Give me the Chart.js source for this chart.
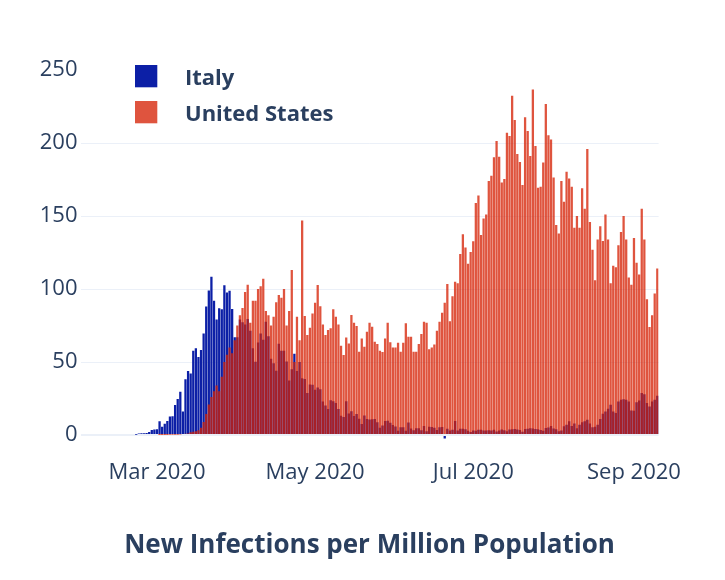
<!DOCTYPE html>
<html>
<head>
<meta charset="utf-8">
<script src="https://cdn.jsdelivr.net/npm/chart.js@4.4.1/dist/chart.umd.min.js"></script>
<style>
html,body{margin:0;padding:0;background:#fff;}
#wrap{width:725px;height:580px;position:relative;}
</style>
</head>
<body>
<div id="wrap"><canvas id="c" width="725" height="580"></canvas></div>
<script>
// ---- data (new infections per million, daily, from 2020-02-01) ----
const startDate = '2020-02-01';
const seriesNames = ['Italy', 'United States'];

const italyFeb = [0,0,0,0,0,0,0,0,0,0,0,0,0,0,0,0,0,0,0,0,0,0.3,1.0,1.2,1.3,1.5,2.1,3.4,3.9];
const italyMar = [4.0,9.4,5.7,7.7,9.7,12.7,12.9,20.6,24.7,29.7,16.2,38.3,43.8,42.1,57.8,59.4,53.5,58.3,69.6,88.0,99.0,108.4,92.0,79.2,86.8,86.2,102.6,97.7,98.8,86.3,67.0];
const italyApr = [67.0,79.1,77.2,75.8,79.5,71.4,59.5,50.3,63.4,69.5,65.3,77.6,67.7,52.2,49.2,44.1,62.6,57.8,57.7,50.4,37.3,45.1,55.7,43.8,50.0,39.0,38.4,28.8,34.6,34.5];
const italyMay = [31.0,32.5,31.4,23.0,20.2,17.8,23.9,23.2,22.0,17.9,13.3,12.3,23.2,14.7,16.4,13.0,14.5,11.2,7.5,13.4,11.0,10.6,10.8,11.0,8.8,5.0,6.6,9.7,9.8,8.5,6.9];
const italyJun = [5.9,2.9,5.3,5.3,2.9,8.6,4.5,3.3,4.6,4.7,3.3,6.3,2.7,5.7,5.6,5.0,3.5,5.4,5.5,-2.4,4.3,3.1,3.6,9.6,3.2,4.4,4.3,4.0,2.9,2.1];
const italyJul = [3.1,3.0,3.7,3.7,3.2,3.2,3.3,3.1,3.6,2.5,3.1,3.8,3.3,2.7,3.8,4.0,4.2,3.9,3.5,2.2,4.2,4.3,4.7,4.5,4.1,4.0,3.5,3.0,4.9,5.2,6.3];
const italyAug = [4.5,4.0,2.6,3.2,6.0,7.0,9.4,6.2,8.0,4.6,7.0,8.7,9.4,10.5,8.0,5.3,5.7,7.0,11.0,14.6,16.2,18.0,20.8,16.2,15.1,23.0,24.2,24.6,24.2,23.0,16.9];
const italySep = [16.7,22.4,23.7,28.8,28.0,21.9,19.6,23.0,24.2,27.0];

const usFeb = [0,0,0,0,0,0,0,0,0,0,0,0,0,0,0,0,0,0,0,0,0,0,0,0,0,0,0,0,0];
const usMar = [0,0.1,0.1,0.1,0.1,0.2,0.2,0.3,0.3,0.4,0.8,0.9,1.1,2.0,2.3,2.7,3.3,5.0,9.0,14.5,21,26,30,34,30,40,50,55,60,56,65];
const usApr = [75,82,87,98,103,77,92,92,100,102,107,85,82,75,81,91,96,94,100,75,85,113,50,81,65,147,81.5,68.5,73.5,83.3];
const usMay = [90.6,102.7,88.3,75.7,68.5,72,73.1,86.1,81,75.7,61.2,54.8,66.9,62.8,82.2,76.9,74.7,57.1,66.2,60.5,70.8,76.9,74.2,63.9,62.4,57.8,56.9,66.2,76.9,63.6,60];
const usJun = [60,63.2,57.1,63.2,76.5,67.4,67.4,57.1,57.1,62.3,69.2,77.6,77,58.7,60,62,71.4,77.6,83.8,90.6,103.4,78,95,105,104,124,137.5,128.4,117.4,125.4];
const usJul = [132.7,159,164,137,148.4,151.1,174,177.6,190.2,201.4,190.6,173,175.3,207,204.8,232.4,215.8,192.5,187,171.3,217.6,208.2,191.1,236.7,197.9,169.4,170,186.6,226.7,205.4,202.5];
const usAug = [176.4,143.8,138.1,174,159.8,180.3,175.8,170,142,150,142,169,155,196,146,127,106,134,143,133,151,134,104,116,115,130,139,150,134,108,103];
const usSep = [135,118,110,155,134,93,74,82,97,114];

const tickDates = ['2020-03-01','2020-05-01','2020-07-01','2020-09-01'];
const tickLabels = ['Mar 2020','May 2020','Jul 2020','Sep 2020'];
const axisTitle = 'New Infections per Million Population';

const italyNew = [].concat(italyFeb, italyMar, italyApr, italyMay, italyJun, italyJul, italyAug, italySep);
const usNew = [].concat(usFeb, usMar, usApr, usMay, usJun, usJul, usAug, usSep);

const dates = [];
(function(){
  const d0 = new Date(startDate + 'T00:00:00Z').getTime();
  for (let i = 0; i < italyNew.length; i++) {
    dates.push(new Date(d0 + i * 86400000).toISOString().slice(0, 10));
  }
})();

// ---- styling ----
const FONT = "'Open Sans', verdana, arial, sans-serif";
const TXT = '#2a3f5f';
const GRID = '#EBF0F8';
const ITALY_COLOR = '#0c1fa6';
const US_COLOR = 'rgba(213,33,4,0.77)';

const insideLegend = {
  id: 'insideLegend',
  afterDraw(chart) {
    const c = chart.ctx;
    c.save();
    const items = chart.data.datasets;
    const tops = [65, 101];
    items.forEach((d, k) => {
      const y = tops[k];
      c.fillStyle = '#ffffff';
      c.fillRect(135, y, 22.3, 22.3);
      c.fillStyle = d.backgroundColor;
      c.fillRect(135, y, 22.3, 22.3);
      c.fillStyle = TXT;
      c.font = 'bold 22px ' + FONT;
      c.textBaseline = 'alphabetic';
      c.textAlign = 'left';
      c.fillText(d.label, 185, y + 19.5);
    });
    c.restore();
  }
};

new Chart(document.getElementById('c'), {
  type: 'bar',
  data: {
    labels: dates,
    datasets: [
      { label: seriesNames[0], data: italyNew, backgroundColor: ITALY_COLOR, order: 1,
        grouped: false, barPercentage: 0.88, categoryPercentage: 1, borderWidth: 0 },
      { label: seriesNames[1], data: usNew, backgroundColor: US_COLOR, order: 0,
        grouped: false, barPercentage: 0.88, categoryPercentage: 1, borderWidth: 0 }
    ]
  },
  options: {
    responsive: false,
    animation: false,
    devicePixelRatio: 1,
    layout: { padding: { left: 0, right: 66.4, top: 69.6, bottom: 0 } },
    plugins: { legend: { display: false }, tooltip: { enabled: false } },
    scales: {
      x: {
        type: 'category',
        offset: true,
        grid: { display: false, drawTicks: false },
        border: { display: false },
        ticks: {
          autoSkip: false, maxRotation: 0, minRotation: 0, padding: 2,
          color: TXT, font: { family: FONT, size: 22 },
          callback: function (v) {
            const k = tickDates.indexOf(this.getLabelForValue(v));
            return k >= 0 ? tickLabels[k] : '';
          }
        },
        title: {
          display: true, text: axisTitle, color: TXT,
          font: { family: FONT, size: 26, weight: 'bold' },
          padding: { top: 0, bottom: 18.4 }
        },
        afterFit: s => { s.height = 122; }
      },
      y: {
        min: -15.7, max: 250.3,
        grid: {
          drawTicks: false,
          color: ctx => (ctx.tick && ctx.tick.value === 250) ? 'rgba(0,0,0,0)' : GRID,
          lineWidth: ctx => (ctx.tick && ctx.tick.value === 0) ? 2 : 1
        },
        border: { display: false },
        ticks: { stepSize: 50, includeBounds: false, padding: 3, color: TXT, font: { family: FONT, size: 22 } },
        afterFit: s => { s.width = 80.5; }
      }
    }
  },
  plugins: [insideLegend]
});
</script>
</body>
</html>
